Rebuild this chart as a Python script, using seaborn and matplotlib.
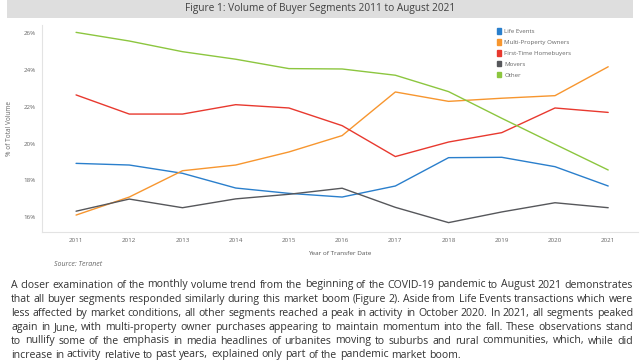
import matplotlib
matplotlib.use("Agg")
import matplotlib.pyplot as plt
from matplotlib.patches import Patch, Rectangle
import seaborn as sns
import pandas as pd

years = [2011, 2012, 2013, 2014, 2015, 2016, 2017, 2018, 2019, 2020, 2021]
life_events = [18.93, 18.84, 18.39, 17.59, 17.30, 17.10, 17.70, 19.24, 19.26, 18.75, 17.70]
multi_property = [16.12, 17.10, 18.53, 18.84, 19.55, 20.44, 22.81, 22.30, 22.47, 22.61, 24.18]
first_time = [22.65, 21.61, 21.61, 22.12, 21.94, 20.98, 19.30, 20.09, 20.60, 21.94, 21.70]
movers = [16.33, 16.99, 16.52, 17.00, 17.25, 17.58, 16.54, 15.71, 16.29, 16.79, 16.52]
other = [26.05, 25.58, 25.00, 24.59, 24.08, 24.06, 23.72, 22.83, 21.38, 19.97, 18.57]

segments = ["Life Events", "Multi-Property Owners", "First-Time Homebuyers", "Movers", "Other"]
series = [life_events, multi_property, first_time, movers, other]
colors = ["#2a7fcc", "#f7962f", "#e8392f", "#56575b", "#8cc63f"]
y_ticks = [16, 18, 20, 22, 24, 26]

title = "Figure 1: Volume of Buyer Segments 2011 to August 2021"
x_label = "Year of Transfer Date"
y_label = "% of Total Volume"
source = "Source: Teranet"
paragraph = [
    "A closer examination of the monthly volume trend from the beginning of the COVID-19 pandemic to August 2021 demonstrates",
    "that all buyer segments responded similarly during this market boom (Figure 2). Aside from Life Events transactions which were",
    "less affected by market conditions, all other segments reached a peak in activity in October 2020. In 2021, all segments peaked",
    "again in June, with multi-property owner purchases appearing to maintain momentum into the fall. These observations stand",
    "to nullify some of the emphasis in media headlines of urbanites moving to suburbs and rural communities, which, while did",
    "increase in activity relative to past years, explained only part of the pandemic market boom.",
]

rows = []
for seg, vals in zip(segments, series):
    for yr, v in zip(years, vals):
        rows.append({"Year": yr, "Segment": seg, "Share": v})
df = pd.DataFrame(rows)

sns.set_theme(style="white")
plt.rcParams["font.family"] = ["Open Sans", "DejaVu Sans"]

W, H = 640, 363
fig = plt.figure(figsize=(6.4, 3.63), dpi=100)
fig.patch.set_facecolor("white")

def fx(px):
    return px / W

def fy(py):
    return 1 - py / H

ax = fig.add_axes([fx(42), fy(232), fx(638) - fx(42), fy(25) - fy(232)])
sns.lineplot(data=df, x="Year", y="Share", hue="Segment", hue_order=segments,
             palette=colors, linewidth=1.0, ax=ax, legend=False)

ax.set_xlim(2010.36, 2021.56)
ax.set_ylim(15.2, 26.45)
ax.set_xticks(years)
ax.set_xticklabels([str(y) for y in years])
ax.set_yticks(y_ticks)
ax.set_yticklabels([f"{t}%" for t in y_ticks])
ax.tick_params(axis="both", length=0, labelsize=4.5, labelcolor="#666666", pad=4.5)
ax.set_xlabel(x_label, fontsize=4.6, color="#555555", labelpad=5.5)
ax.set_ylabel("")
for s in ["top", "right"]:
    ax.spines[s].set_visible(False)
for s in ["left", "bottom"]:
    ax.spines[s].set_color("#e3e3e3")
    ax.spines[s].set_linewidth(0.8)

fig.text(fx(10), fy(129), y_label, rotation=90, fontsize=4.7, color="#666666",
         ha="center", va="center")

handles = [Patch(facecolor=c, edgecolor=c) for c in colors]
leg = fig.legend(handles, segments, loc="upper left", bbox_to_anchor=(fx(496.5), fy(28.5)),
                 frameon=False, fontsize=4.4, handlelength=0.8, handleheight=1.0,
                 handletextpad=0.45, labelspacing=0.82, borderaxespad=0, borderpad=0)
for t in leg.get_texts():
    t.set_color("#666666")

# Title band
fig.patches.append(Rectangle((fx(7), fy(17.5)), fx(633) - fx(7), fy(0) - fy(17.5),
                             transform=fig.transFigure, facecolor="#dedede",
                             edgecolor="none", zorder=0))
fig.text(fx(320), fy(9), title, ha="center", va="center", fontsize=7.3, color="#404040")

fig.text(fx(54), fy(265), source, ha="left", va="center", fontsize=5,
         style="italic", color="#666666")

# Justified paragraph
renderer = fig.canvas.get_renderer()
left, right = 11, 633
line_y = [285, 299.3, 313.3, 327.3, 341, 355]

def word_width(w, fs):
    t = fig.text(0, 0, w, fontsize=fs)
    bb = t.get_window_extent(renderer=renderer)
    t.remove()
    return bb.width

base = 7.3
sw = word_width("a a", base) - 2 * word_width("a", base)
words0 = paragraph[0].split(" ")
natural0 = sum(word_width(w, base) for w in words0) + sw * (len(words0) - 1)
fs = base * (right - left) / natural0

space_w = word_width("a a", fs) - 2 * word_width("a", fs)
for i, (line, ly) in enumerate(zip(paragraph, line_y)):
    words = line.split(" ")
    widths = [word_width(w, fs) for w in words]
    if i < len(paragraph) - 1:
        gap = max((right - left - sum(widths)) / (len(words) - 1), 0.55 * space_w)
    else:
        gap = space_w
    x = left
    for w, wd in zip(words, widths):
        fig.text(fx(x), fy(ly), w, fontsize=fs, color="#333333", ha="left", va="center")
        x += wd + gap

fig.savefig("out.png", dpi=100, facecolor="white")
